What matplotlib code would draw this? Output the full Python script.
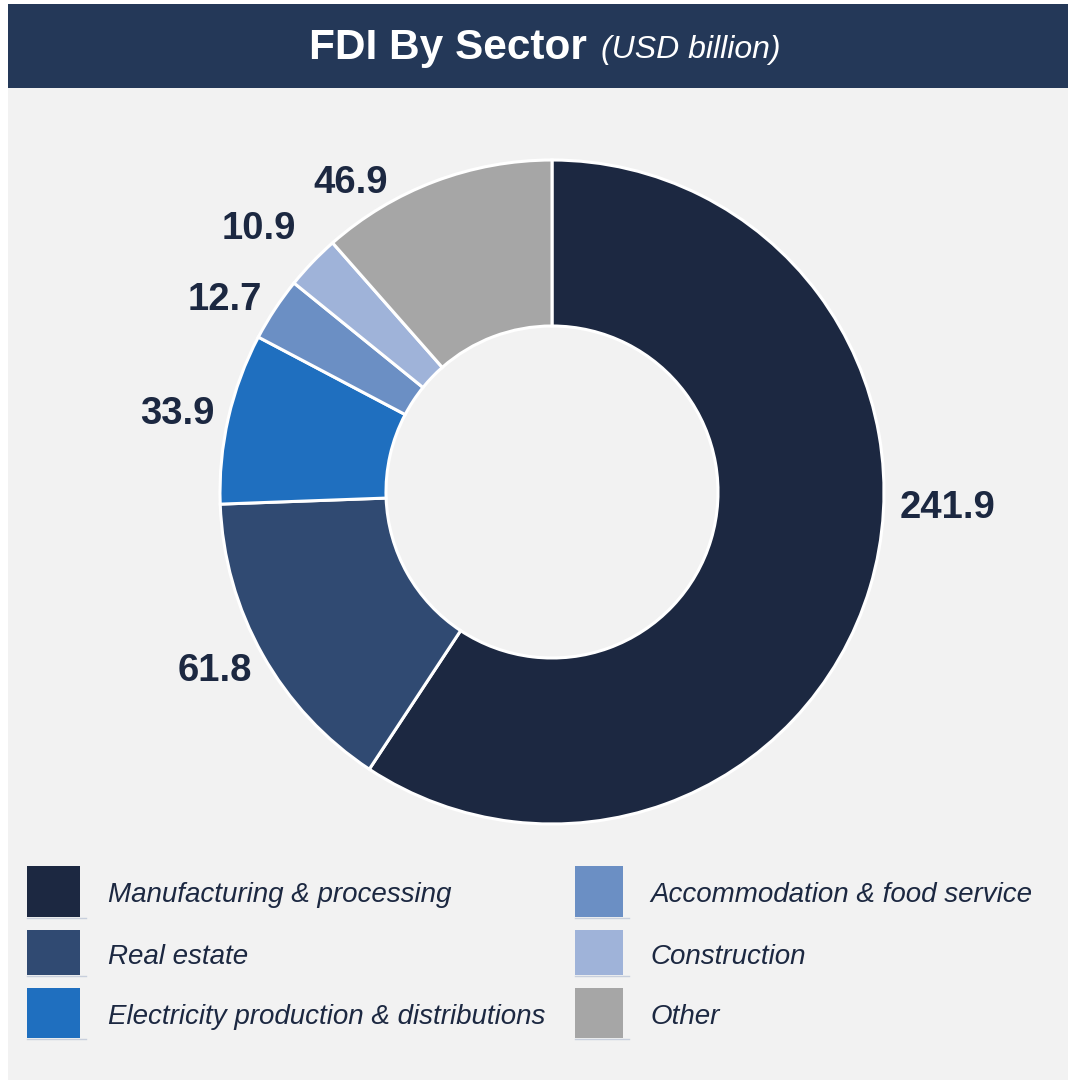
import numpy as np
import matplotlib
matplotlib.use("Agg")
import matplotlib.pyplot as plt
from matplotlib.patches import Rectangle

plt.rcParams['font.family'] = ['Liberation Sans', 'DejaVu Sans']

# data
sectors = ['Manufacturing & processing', 'Real estate', 'Electricity production & distributions',
           'Accommodation & food service', 'Construction', 'Other']
values = [241.9, 61.8, 33.9, 12.7, 10.9, 46.9]
colors = ['#1c2841', '#304a72', '#1f6fbf', '#6b8fc4', '#9fb3d9', '#a6a6a6']
labels = ['241.9', '61.8', '33.9', '12.7', '10.9', '46.9']

W, H = 1068, 1084
fig = plt.figure(figsize=(W / 100, H / 100), dpi=100)
ax = fig.add_axes([0, 0, 1, 1])

def py(y):
    # pixel row (top-down) to axes y
    return H - y

# panel + header
ax.add_patch(Rectangle((8, py(1080)), W - 8, 1080 - 4, facecolor='#f2f2f2', edgecolor='none', zorder=0))
ax.add_patch(Rectangle((8, py(88)), W - 8, 84, facecolor='#243858', edgecolor='none', zorder=1))
ax.text(587, py(48), 'FDI By Sector', ha='right', va='center', color='white',
        fontsize=30.5, fontweight='bold', zorder=2)
ax.text(601, py(50), '(USD billion)', ha='left', va='center', color='white',
        fontsize=23, fontstyle='italic', zorder=2)

# donut
cx, cy, R = 552, py(492), 332
wedges, _ = ax.pie(values, colors=colors, startangle=90, counterclock=False,
                   center=(cx, cy), radius=R,
                   wedgeprops=dict(width=R * 0.5, edgecolor='white', linewidth=2.2))

# value labels (angle nudges keep them clear of neighbours)
nudge = {0: 15, 5: 12, 4: 1.5, 3: 2.5, 2: 0.5, 1: -2}
rad = {0: 396, 1: 380, 2: 384, 3: 381, 4: 396, 5: 372}
for i, w in enumerate(wedges):
    ang = np.deg2rad((w.theta1 + w.theta2) / 2 + nudge[i])
    r = rad[i]
    ax.text(cx + r * np.cos(ang), cy + r * np.sin(ang) - 4, labels[i], ha='center', va='center',
            fontsize=27.5, fontweight='bold', color='#1c2841')

# legend
rows = [(866, 917), (930, 975), (988, 1038)]
cols = [(27, 80, 108), (575, 623, 650)]
for i, name in enumerate(sectors):
    c = cols[i // 3]
    r0, r1 = rows[i % 3]
    ax.add_patch(Rectangle((c[0], py(r1)), c[1] - c[0], r1 - r0, facecolor=colors[i], edgecolor='none'))
    ax.plot([c[0], c[1] + 6], [py(r1) - 1, py(r1) - 1], color='#c8cfdc', lw=1)
    ax.text(c[2], py((r0 + r1) / 2) - 4, name, ha='left', va='center', fontsize=20,
            fontstyle='italic', color='#1c2841')

ax.set_xlim(0, W)
ax.set_ylim(0, H)
ax.set_aspect('auto')
ax.axis('off')
fig.savefig('out.png', dpi=100, facecolor='white')
